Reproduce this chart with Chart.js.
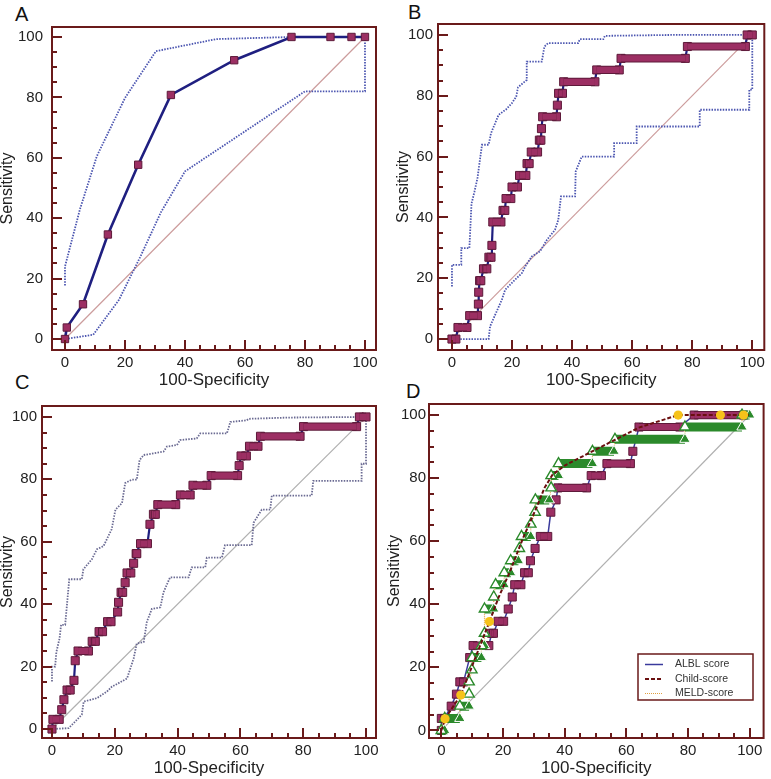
<!DOCTYPE html>
<html>
<head>
<meta charset="utf-8">
<script src="https://cdn.jsdelivr.net/npm/chart.js@4.4.1/dist/chart.umd.min.js"></script>
<style>
  body { margin: 0; background: #fff; width: 771px; height: 779px; position: relative; overflow: hidden; }
  canvas { position: absolute; }
  .tag { position: absolute; font-family: "Liberation Sans", Arial, sans-serif; font-size: 20px; line-height: 20px; color: #111; }
</style>
</head>
<body>
<div class="tag" style="left:15px;top:4px">A</div>
<div class="tag" style="left:408px;top:2px">B</div>
<div class="tag" style="left:15px;top:372px">C</div>
<div class="tag" style="left:406px;top:381px">D</div>
<canvas id="chartA" width="385" height="392" style="left:0;top:0;width:385px;height:392px"></canvas>
<canvas id="chartB" width="386" height="392" style="left:385px;top:0;width:386px;height:392px"></canvas>
<canvas id="chartC" width="385" height="387" style="left:0;top:392px;width:385px;height:387px"></canvas>
<canvas id="chartD" width="386" height="387" style="left:385px;top:392px;width:386px;height:387px"></canvas>
<script>
const FONT = '"Liberation Sans", Arial, sans-serif';
const FRAME = '#6a1a1a';
const MAROON = '#9c2f63';
const MAROON_DARK = '#5e1a3a';
const NAVY = '#1f1f80';

const tickValues = [0, 20, 40, 60, 80, 100];
const minorStep = 5;
const diagX = [0, 100];
const diagY = [0, 100];

// Panel A - ROC points
const aFpr = [0, 0.6, 6, 14.3, 24.4, 35.3, 56.4, 75.5, 88.5, 95.5, 100];
const aSens = [0, 3.8, 11.5, 34.6, 57.7, 80.8, 92.3, 100, 100, 100, 100];
// Panel A - confidence band (upper, right edge, lower)
const aCiX = [0, 0, 5, 10.6, 20, 30.3, 50.5, 75.6, 100, 100, 80, 40, 32, 25, 18, 9.4, 0];
const aCiY = [17.7, 24, 43, 60.5, 79.8, 95.3, 99.3, 100, 100, 82, 82, 55.5, 42, 27, 13, 1.4, 0];

// Panel B - steps (sensitivity level, first and last 100-specificity on that level)
const bSens = [0, 3.8, 7.7, 11.5, 15.4, 19.2, 23.1, 26.9, 30.8, 38.5, 42.3, 46.2, 50, 53.8, 57.7, 61.5, 65.4, 69.2, 73.1, 76.9, 80.8, 84.6, 88.5, 92.3, 96.2, 100];
const bFrom = [0, 2.0, 5.9, 8.8, 8.9, 9.2, 10.5, 12.3, 13.3, 13.6, 17.0, 18.0, 20.0, 22.5, 25.0, 26.4, 29.1, 29.8, 30.2, 35.1, 35.5, 37.2, 48.2, 56.3, 78.4, 98.3];
const bTo = [1.3, 5.0, 8.5, 8.8, 8.9, 9.6, 11.6, 13.0, 13.3, 16.3, 17.6, 19.6, 21.8, 24.6, 25.7, 28.5, 29.6, 29.8, 34.8, 35.1, 36.8, 47.6, 55.7, 77.7, 97.7, 100];
const bCiX = [0, 0, 3.1, 3.1, 5.8, 6.5, 7.5, 8.5, 10, 12.2, 13, 14.4, 15.5, 18, 19.9, 21.4, 22, 24.9, 24.9, 29.9, 30.8, 32, 42, 42.6, 50.4, 50.9, 73, 100,
  100, 99, 99, 82.5, 82.5, 61.5, 61.5, 54, 54, 43.2, 41.2, 41, 36.3, 35.4, 34.3, 31.6, 29.3, 26.6, 24.4, 23.3, 21, 17.7, 16.6, 14.4, 12.7, 12.2, 0];
const bCiY = [17.3, 24.4, 24.4, 29.9, 29.9, 44.5, 48.5, 53, 63.9, 63.9, 67.7, 71, 73.7, 75.5, 77.5, 79.7, 82.8, 85.2, 91.2, 91.2, 96.2, 97.3, 97.3, 98.6, 98.6, 99.7, 100, 100,
  82, 82, 75.4, 75.4, 69.9, 69.9, 64.4, 64.4, 60, 60, 55.1, 46.9, 46.9, 39.2, 35.9, 32.6, 28.8, 27.2, 23.9, 21.7, 19.5, 16.2, 12.9, 8, 4.2, 0, 0];

// Panel C
const cSens = [0, 3.1, 6.2, 9.4, 12.5, 15.6, 21.9, 25, 28.1, 31.2, 34.4, 37.5, 40.6, 43.8, 46.9, 50, 53.1, 56.2, 59.4, 65.6, 68.8, 71.9, 75, 78.1, 81.2, 84.4, 87.5, 90.6, 93.8, 96.9, 100];
const cFrom = [0, 0.3, 3.1, 3.8, 4.8, 7.0, 7.4, 8.3, 12.8, 15.0, 17.7, 20.9, 21.2, 22.0, 23.3, 23.9, 26.0, 26.8, 28.2, 31.2, 32.3, 33.7, 40.9, 44.9, 50.7, 59.6, 60.2, 62.9, 66.4, 80.1, 97.9];
const cTo = [0, 2.3, 3.1, 3.8, 5.8, 7.0, 7.4, 11.6, 13.8, 16.1, 18.8, 20.9, 21.2, 22.5, 23.3, 25.1, 26.0, 27.0, 30.4, 31.2, 32.9, 39.4, 44.0, 49.3, 59.1, 59.6, 61.9, 65.6, 79.0, 97.0, 100];
const cCiX = [0, 0, 1, 1.4, 2.4, 2.9, 4.2, 5.5, 9.5, 10, 12.7, 14.3, 16.4, 19, 20.2, 22.3, 23.3, 25.4, 27, 27.9, 29.2, 35.5, 36.6, 39.8, 40.8, 46.1, 47.2, 55.7, 56.8, 62, 62.6, 75.8, 100,
  100, 98.6, 98.6, 83.2, 82.7, 70, 69.5, 66.8, 64.2, 63.6, 55.1, 54.1, 49.3, 48.8, 44.5, 43.5, 37.6, 35.5, 34.5, 31.8, 30.2, 29.2, 27, 26, 23.9, 20.1, 19.1, 17.5, 14.3, 10.1, 9.5, 7.4, 5.3, 0];
const cCiY = [15.2, 20, 20, 24.7, 29, 33.4, 33.4, 48, 48, 51.2, 54.4, 57.6, 58.6, 64, 70.3, 72.4, 78.8, 79.9, 79.9, 86.2, 87.8, 88.9, 90.5, 91, 92.6, 93.1, 94.7, 94.7, 98.4, 98.9, 99.4, 99.8, 100,
  85, 85, 79.5, 79.5, 74.8, 74.8, 70.3, 70.3, 66.1, 58.9, 58.9, 54.9, 54.9, 51.8, 51.8, 48.6, 48.6, 43.8, 39, 38.5, 34.3, 27.9, 27.4, 22.6, 16.2, 14.1, 13.6, 12, 9.9, 8.8, 4.6, 2.4, 0.3, 0];

// Panel D - ALBL score
const dAlblSens = [0, 3.8, 7.7, 11.5, 15.4, 23.1, 26.9, 30.8, 34.6, 38.5, 42.3, 46.2, 50, 53.8, 57.7, 61.5, 69.2, 73.1, 76.9, 80.8, 84.6, 88.5, 96.2, 100];
const dAlblFrom = [0, 0, 3.2, 4.9, 6.0, 9.2, 10.3, 16.3, 18.4, 21.7, 23.0, 23.8, 27.0, 28.9, 30.4, 32.1, 35.5, 37.2, 37.8, 48.6, 53.7, 62.1, 64.1, 82.0];
const dAlblTo = [0, 1.0, 3.2, 4.9, 7.2, 9.2, 15.4, 16.9, 20.2, 21.7, 23.0, 25.8, 28.2, 28.9, 30.4, 34.5, 35.5, 37.2, 47.1, 51.9, 61.3, 62.1, 77.3, 98.0];
// Panel D - MELD score
const dMeldSens = [0, 3.8, 7.7, 11.5, 15.4, 19.2, 23.1, 26.9, 30.8, 38.5, 42.3, 46.2, 50, 53.8, 57.7, 61.5, 65.4, 69.2, 73.1, 76.9, 80.8, 84.6, 88.5, 92.3, 96.2, 100];
const dMeldFrom = [0, 1.1, 6.0, 9.0, 9.0, 9.9, 10.0, 13.0, 14.0, 14.0, 17.0, 17.6, 20.4, 22.5, 25.3, 26.0, 29.0, 30.4, 30.5, 35.6, 35.6, 38.0, 49.0, 56.3, 79.0, 97.5];
const dMeldTo = [1.1, 6.0, 9.0, 9.0, 9.0, 9.9, 13.0, 14.0, 14.0, 17.0, 17.0, 20.4, 22.5, 25.0, 25.3, 29.0, 29.0, 30.4, 35.0, 35.6, 38.0, 49.0, 56.0, 79.0, 97.5, 100];
// Panel D - Child score
const dChildX = [0, 1.2, 6.3, 15.6, 18.5, 22.5, 26.5, 31, 33.5, 36, 40, 46, 52, 58, 64, 76.8, 90.5, 98, 100];
const dChildY = [0, 3.7, 11.2, 34.5, 42, 51, 61, 71, 77, 81, 84, 87, 90, 93, 96, 100, 100, 100, 100];
const dChildDotsX = [1.2, 6.3, 15.6, 76.8, 90.5, 98];
const dChildDotsY = [3.7, 11.2, 34.5, 100, 100, 100];

const legendLabels = ['ALBL score', 'Child-score', 'MELD-score'];

function xy(xs, ys) {
  return xs.map((x, i) => ({ x: x, y: ys[i] }));
}
// corner points of a stepped ROC curve
function stepPoints(sens, from, to) {
  const pts = [];
  sens.forEach((s, i) => {
    pts.push({ x: from[i], y: s });
    if (to[i] !== from[i]) pts.push({ x: to[i], y: s });
  });
  return pts;
}
// horizontal runs, separated by gaps
function barPoints(sens, from, to) {
  const pts = [];
  sens.forEach((s, i) => {
    if (to[i] > from[i]) pts.push({ x: from[i], y: s }, { x: to[i], y: s }, { x: to[i], y: null });
  });
  return pts;
}

const framePlugin = {
  id: 'frame',
  afterDatasetsDraw(chart) {
    const { ctx, chartArea: a, scales: { x, y } } = chart;
    ctx.save();
    ctx.strokeStyle = FRAME;
    ctx.lineWidth = 2;
    ctx.strokeRect(a.left, a.top, a.right - a.left, a.bottom - a.top);
    ctx.beginPath();
    for (let v = tickValues[0]; v <= tickValues[tickValues.length - 1]; v += minorStep) {
      const len = tickValues.includes(v) ? 10 : 5;
      const px = Math.round(x.getPixelForValue(v));
      ctx.moveTo(px, a.bottom);
      ctx.lineTo(px, a.bottom - len);
      const py = Math.round(y.getPixelForValue(v));
      ctx.moveTo(a.left, py);
      ctx.lineTo(a.left + len, py);
    }
    ctx.stroke();
    ctx.restore();
  }
};

function scales(p) {
  return {
    x: {
      type: 'linear', min: p.xMin, max: p.xMax,
      grid: { display: false, drawTicks: false }, border: { display: false },
      ticks: {
        stepSize: 20, includeBounds: false, autoSkip: false, maxRotation: 0, padding: 4, color: '#222',
        font: { family: FONT, size: 15 },
        callback: v => tickValues.includes(v) ? String(v) : ''
      },
      title: { display: true, text: '100-Specificity', color: '#222', font: { family: FONT, size: 17, lineHeight: 1 }, padding: { top: 0, bottom: p.xTitlePad } },
      afterFit: s => { s.height = p.xH; }
    },
    y: {
      type: 'linear', min: p.yMin, max: p.yMax,
      grid: { display: false, drawTicks: false }, border: { display: false },
      ticks: {
        stepSize: 20, includeBounds: false, autoSkip: false, padding: p.yTickPad, color: '#222',
        font: { family: FONT, size: 15 },
        callback: v => tickValues.includes(v) ? String(v) : ''
      },
      title: { display: true, text: 'Sensitivity', color: '#222', font: { family: FONT, size: 16, lineHeight: 1 }, padding: { top: p.yTitlePad, bottom: 0 } },
      afterFit: s => { s.width = p.yW; }
    }
  };
}

function baseOptions(p) {
  return {
    responsive: false,
    animation: false,
    devicePixelRatio: 1,
    layout: { padding: { left: 0, top: p.top, right: p.right, bottom: 0 } },
    plugins: { legend: { display: false }, tooltip: { enabled: false } },
    elements: { line: { tension: 0 } },
    scales: scales(p)
  };
}

function diagonal(color, order) {
  return { data: xy(diagX, diagY), showLine: true, borderColor: color, borderWidth: 1.2, pointRadius: 0, order: order };
}
function ciLine(xs, ys, color, order) {
  return { data: xy(xs, ys), showLine: true, borderColor: color, borderWidth: 1.8, borderDash: [1.5, 1.3], pointRadius: 0, order: order };
}
function stepSets(sens, from, to) {
  return [
    { data: stepPoints(sens, from, to), showLine: true, borderColor: NAVY, borderWidth: 2.2, pointRadius: 0, order: 4 },
    { data: stepPoints(sens, from, to), showLine: false, pointStyle: 'rect', pointRadius: 5.7, backgroundColor: MAROON, borderColor: MAROON_DARK, borderWidth: 1, order: 3 },
    { data: barPoints(sens, from, to), showLine: true, spanGaps: false, borderColor: MAROON_DARK, borderWidth: 8.2, borderCapStyle: 'butt', pointRadius: 0, order: 2 },
    { data: barPoints(sens, from, to), showLine: true, spanGaps: false, borderColor: MAROON, borderWidth: 6.2, borderCapStyle: 'butt', pointRadius: 0, order: 1 }
  ];
}

// A
new Chart(document.getElementById('chartA'), {
  type: 'scatter',
  data: {
    datasets: [
      diagonal('#cc9c9c', 6),
      ciLine(aCiX, aCiY, '#4b55b0', 5),
      { data: xy(aFpr, aSens), showLine: true, borderColor: NAVY, borderWidth: 2.6, pointStyle: 'rect', pointRadius: 5.2, backgroundColor: MAROON, pointBorderColor: MAROON_DARK, pointBorderWidth: 1, order: 1 }
    ]
  },
  options: baseOptions({ top: 27, right: 9, yW: 52, xH: 42, xMin: -4.33, xMax: 103.67, yMin: -3.64, yMax: 103.3, xTitlePad: 3.5, yTitlePad: 0, yTickPad: 9 }),
  plugins: [framePlugin]
});

// B
new Chart(document.getElementById('chartB'), {
  type: 'scatter',
  data: {
    datasets: [diagonal('#cc9c9c', 6), ciLine(bCiX, bCiY, '#4b55b0', 5)].concat(stepSets(bSens, bFrom, bTo))
  },
  options: baseOptions({ top: 24, right: 6, yW: 53, xH: 42, xMin: -4.65, xMax: 104, yMin: -3.6, yMax: 103.6, xTitlePad: 3.5, yTitlePad: 10.5, yTickPad: 5 }),
  plugins: [framePlugin]
});

// C
new Chart(document.getElementById('chartC'), {
  type: 'scatter',
  data: {
    datasets: [diagonal('#b0b0b0', 6), ciLine(cCiX, cCiY, '#6a6a92', 5)].concat(stepSets(cSens, cFrom, cTo))
  },
  options: baseOptions({ top: 12, right: 9, yW: 42, xH: 41, xMin: -3.18, xMax: 103.18, yMin: -2.87, yMax: 103.5, xTitlePad: 2.5, yTitlePad: 0, yTickPad: 5 }),
  plugins: [framePlugin]
});

// D
const legendPlugin = {
  id: 'boxLegend',
  afterDraw(chart) {
    const ctx = chart.ctx;
    const bx = 253, by = 262, bw = 115, bh = 46;
    ctx.save();
    ctx.fillStyle = '#fff';
    ctx.fillRect(bx, by, bw, bh);
    ctx.strokeStyle = FRAME;
    ctx.lineWidth = 1.5;
    ctx.strokeRect(bx, by, bw, bh);
    const styles = [
      { color: '#3a3a9c', dash: [], width: 1.5 },
      { color: '#6a0f0f', dash: [4, 2], width: 2 },
      { color: '#e0a040', dash: [1, 1], width: 1.2 }
    ];
    ctx.font = '10.5px ' + FONT;
    ctx.textBaseline = 'middle';
    legendLabels.forEach((label, i) => {
      const ly = by + 10.5 + i * 14.5;
      ctx.strokeStyle = styles[i].color;
      ctx.lineWidth = styles[i].width;
      ctx.setLineDash(styles[i].dash);
      ctx.beginPath();
      ctx.moveTo(bx + 7, ly);
      ctx.lineTo(bx + 25, ly);
      ctx.stroke();
      ctx.setLineDash([]);
      ctx.fillStyle = '#333';
      ctx.fillText(label, bx + 37, ly);
    });
    ctx.restore();
  }
};

new Chart(document.getElementById('chartD'), {
  type: 'scatter',
  data: {
    datasets: [
      diagonal('#b0b0b0', 12),
      { data: stepPoints(dAlblSens, dAlblFrom, dAlblTo), showLine: true, borderColor: '#3a3a9c', borderWidth: 1.5, pointRadius: 0, order: 11 },
      { data: stepPoints(dAlblSens, dAlblFrom, dAlblTo), showLine: false, pointStyle: 'rect', pointRadius: 5.7, backgroundColor: MAROON, borderColor: MAROON_DARK, borderWidth: 1, order: 10 },
      { data: barPoints(dAlblSens, dAlblFrom, dAlblTo), showLine: true, borderColor: MAROON_DARK, borderWidth: 8.2, borderCapStyle: 'butt', pointRadius: 0, order: 9 },
      { data: barPoints(dAlblSens, dAlblFrom, dAlblTo), showLine: true, borderColor: MAROON, borderWidth: 6.2, borderCapStyle: 'butt', pointRadius: 0, order: 8 },
      { data: stepPoints(dMeldSens, dMeldFrom, dMeldTo), showLine: true, borderColor: '#e0a040', borderWidth: 1.2, borderDash: [1, 1], pointRadius: 0, order: 7 },
      { data: barPoints(dMeldSens, dMeldFrom, dMeldTo), showLine: true, borderColor: '#2b8a2b', borderWidth: 9, borderCapStyle: 'butt', pointRadius: 0, order: 6 },
      { data: xy(dMeldTo, dMeldSens), showLine: false, pointStyle: 'triangle', pointRadius: 6, backgroundColor: '#2b8a2b', borderColor: '#ffffff', borderWidth: 1, order: 5 },
      { data: xy(dMeldFrom, dMeldSens), showLine: false, pointStyle: 'triangle', pointRadius: 6, backgroundColor: '#ffffff', borderColor: '#2b8a2b', borderWidth: 1.4, order: 4 },
      { data: xy(dChildX, dChildY), showLine: true, borderColor: '#6a0f0f', borderWidth: 2, borderDash: [4, 2], pointRadius: 0, order: 3 },
      { data: xy(dChildDotsX, dChildDotsY), showLine: false, pointStyle: 'circle', pointRadius: 4.6, backgroundColor: '#f6c21a', borderColor: '#f6c21a', borderWidth: 0, order: 2 }
    ]
  },
  options: baseOptions({ top: 10, right: 6, yW: 44, xH: 41, xMin: -4.0, xMax: 104.5, yMin: -2.4, yMax: 103.5, xTitlePad: 2.5, yTitlePad: 2, yTickPad: 3 }),
  plugins: [framePlugin, legendPlugin]
});
</script>
</body>
</html>
